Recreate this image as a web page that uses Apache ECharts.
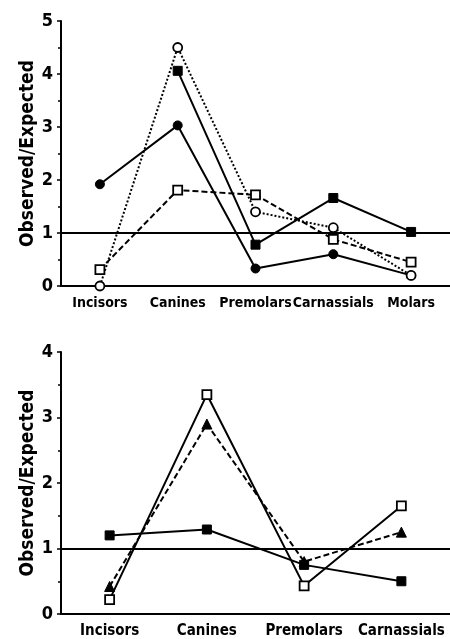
<!DOCTYPE html>
<html><head><meta charset="utf-8">
<script src="https://cdn.jsdelivr.net/npm/echarts@6/dist/echarts.min.js"></script>
<style>html,body{margin:0;padding:0;background:#fff}#c{width:450px;height:639px}</style>
</head><body><div id="c"></div>
<script>
// ---- data ----
const catsTop = ['Incisors','Canines','Premolars','Carnassials','Molars'];
const topFilledCircle = [1.92, 3.03, 0.33, 0.60, 0.20];
const topFilledSquare = [null, 4.06, 0.78, 1.66, 1.02];
const topOpenCircle   = [0.00, 4.50, 1.40, 1.10, 0.20];
const topOpenSquare   = [0.31, 1.81, 1.72, 0.88, 0.45];
const topYTicks = [0, 5, 1];

const catsBot = ['Incisors','Canines','Premolars','Carnassials'];
const botFilledSquare = [1.20, 1.29, 0.75, 0.50];
const botOpenSquare   = [0.22, 3.35, 0.43, 1.65];
const botTriangle     = [0.42, 2.90, 0.80, 1.25];
const botYTicks = [0, 4, 1];
const refValue = 1;

// ---- chart ----
const FONT = "'Liberation Sans Narrow','Arial Narrow','DejaVu Sans Condensed','Liberation Sans',sans-serif";
const lbl = {fontFamily: FONT, fontWeight: 'bold', fontSize: 15, color: '#000'};

function xAx(gi, data, fs) {
  return {
    type: 'category', gridIndex: gi, data: data, boundaryGap: true,
    axisLine: {lineStyle: {color: '#000', width: 2}},
    axisTick: {alignWithLabel: true, length: 5, lineStyle: {color: '#000', width: 1.5}},
    axisLabel: Object.assign({margin: 10, interval: 0, hideOverlap: false}, lbl, {fontSize: fs})
  };
}
function yAx(gi, t) {
  return {
    type: 'value', gridIndex: gi, min: t[0], max: t[1], interval: t[2],
    axisLine: {show: true, lineStyle: {color: '#000', width: 2}},
    axisTick: {show: true, length: 4, lineStyle: {color: '#000', width: 1.5}},
    minorTick: {show: true, splitNumber: 2, length: 3, lineStyle: {color: '#000', width: 1.5}},
    splitLine: {show: false},
    axisLabel: Object.assign({margin: 8}, lbl, {fontSize: 18}),
    name: 'Observed/Expected', nameLocation: 'middle', nameRotate: 90, nameGap: 23,
    nameMoveOverlap: false,
    nameTextStyle: Object.assign({}, lbl, {fontSize: 19})
  };
}
function ser(gi, data, symbol, filled, ltype, withMark) {
  const s = {
    type: 'line', xAxisIndex: gi, yAxisIndex: gi, data: data,
    symbol: symbol, symbolSize: symbol === 'triangle' ? 10 : 9,
    connectNulls: false, animation: false,
    lineStyle: {color: '#000', width: 2, type: ltype},
    itemStyle: filled ? {color: '#000', borderColor: '#000', borderWidth: 1}
                      : {color: '#fff', borderColor: '#000', borderWidth: 1.8}
  };
  if (withMark) {
    s.markLine = {silent: true, symbol: 'none', label: {show: false},
      lineStyle: {color: '#000', width: 2, type: 'solid'},
      data: [{yAxis: refValue}]};
  }
  return s;
}

const chart = echarts.init(document.getElementById('c'), null, {renderer: 'canvas'});
chart.setOption({
  animation: false,
  backgroundColor: '#fff',
  grid: [
    {left: 61, top: 21, width: 389, height: 265},
    {left: 61, top: 352, width: 392, height: 262}
  ],
  xAxis: [xAx(0, catsTop, 14), xAx(1, catsBot, 15)],
  yAxis: [yAx(0, topYTicks), yAx(1, botYTicks)],
  series: [
    ser(0, topFilledCircle, 'circle', true, 'solid', true),
    ser(0, topFilledSquare, 'rect', true, 'solid', false),
    ser(0, topOpenSquare, 'rect', false, [6, 3], false),
    ser(0, topOpenCircle, 'circle', false, [2, 2], false),
    ser(1, botFilledSquare, 'rect', true, 'solid', true),
    ser(1, botTriangle, 'triangle', true, [6, 3], false),
    ser(1, botOpenSquare, 'rect', false, 'solid', false)
  ]
});
</script></body></html>
